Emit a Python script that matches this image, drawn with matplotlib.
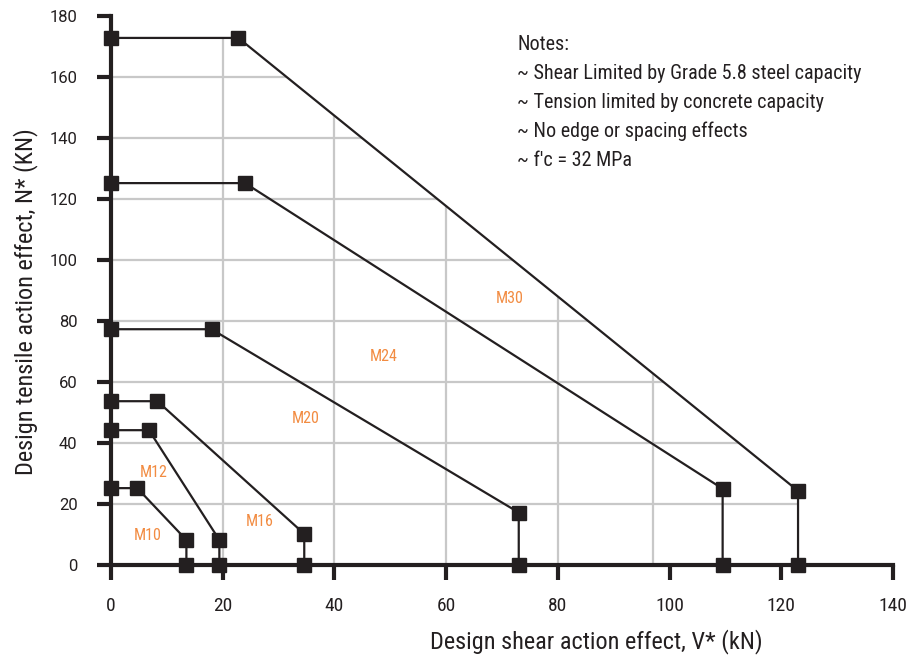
import matplotlib
matplotlib.use('Agg')
import matplotlib.pyplot as plt
from matplotlib import font_manager
from matplotlib.patches import Polygon

# pick a condensed face if one is installed
names = {f.name for f in font_manager.fontManager.ttflist}
cond = None
for n in ['Roboto Condensed', 'Liberation Sans Narrow', 'Open Sans Condensed']:
    if n in names:
        cond = n
        break
cond_kw = dict(family=cond) if cond else dict(family='Roboto', stretch='condensed')

# anchor bolt interaction curves: shear V* (kN) vs tension N* (kN)
sizes = ['M10', 'M12', 'M16', 'M20', 'M24', 'M30']
v_pts = {
    'M10': [0, 4.7, 13.5, 13.5],
    'M12': [0, 6.8, 19.4, 19.4],
    'M16': [0, 8.3, 34.6, 34.6],
    'M20': [0, 18.0, 73.0, 73.0],
    'M24': [0, 24.0, 109.5, 109.5],
    'M30': [0, 22.8, 123.0, 123.0],
}
n_pts = {
    'M10': [25.2, 25.2, 8.2, 0],
    'M12': [44.2, 44.2, 8.2, 0],
    'M16': [53.7, 53.7, 10.2, 0],
    'M20': [77.3, 77.3, 17.2, 0],
    'M24': [125.2, 125.2, 25.0, 0],
    'M30': [172.8, 172.8, 24.3, 0],
}
label_pos = {
    'M10': (6.6, 9.8),
    'M12': (7.6, 30.2),
    'M16': (26.6, 14.4),
    'M20': (34.8, 47.9),
    'M24': (48.8, 68.2),
    'M30': (71.3, 87.5),
}
grid_x = [20, 40, 60, 80, 97]
grid_y = [20, 40, 60, 80, 100, 120, 140, 160]
notes = ['Notes:',
         '~ Shear Limited by Grade 5.8 steel capacity',
         '~ Tension limited by concrete capacity',
         '~ No edge or spacing effects',
         "~ f'c = 32 MPa"]

fig = plt.figure(figsize=(9.09, 6.68), dpi=100)
ax = fig.add_axes([0.1221, 0.1542, 0.8603, 0.8219])

ax.set_xlim(0, 140)
ax.set_ylim(0, 180)

# grid only inside the largest (M30) envelope
env = Polygon(list(zip([0] + v_pts['M30'], [0] + n_pts['M30'])), closed=True,
              transform=ax.transData, facecolor='none', edgecolor='none')
ax.add_patch(env)
for gx in grid_x:
    ln = ax.axvline(gx, color='#c8c8c8', lw=1.6, zorder=1)
    ln.set_clip_path(env)
for gy in grid_y:
    ln = ax.axhline(gy, color='#c8c8c8', lw=1.6, zorder=1)
    ln.set_clip_path(env)

for s in sizes:
    ax.plot(v_pts[s], n_pts[s], color='#231f20', lw=1.6, marker='s',
            markersize=9.5, markerfacecolor='#231f20', markeredgecolor='#231f20',
            clip_on=False, zorder=4)
    ax.text(label_pos[s][0], label_pos[s][1], s, color='#F28C42',
            fontsize=11.5, ha='center', va='center', **cond_kw)

ax.set_xticks(range(0, 141, 20))
ax.set_yticks(range(0, 181, 20))
for lbl in ax.get_xticklabels():
    lbl.set_fontproperties(font_manager.FontProperties(size=14, **cond_kw))
for lbl in ax.get_yticklabels():
    lbl.set_fontproperties(font_manager.FontProperties(family='Roboto', size=12))
ax.tick_params(axis='x', length=11, width=3, color='#231f20', pad=12,
               labelcolor='#231f20')
ax.tick_params(axis='y', length=10, width=3, color='#231f20', pad=14,
               labelcolor='#231f20')

for side in ['top', 'right']:
    ax.spines[side].set_visible(False)
for side in ['left', 'bottom']:
    ax.spines[side].set_linewidth(3)
    ax.spines[side].set_color('#231f20')
    ax.spines[side].set_zorder(3)

ax.set_xlabel('Design shear action effect, V* (kN)', fontsize=17.5,
              color='#231f20', **cond_kw)
ax.xaxis.set_label_coords(0.62, -0.116)
ax.set_ylabel('Design tensile action effect, N* (KN)', fontsize=17.5,
              color='#231f20', **cond_kw)
ax.yaxis.set_label_coords(-0.093, 0.479)

for i, t in enumerate(notes):
    ax.text(0.569, 0.933 - i * 0.0434, t, transform=fig.transFigure,
            fontsize=14.5, color='#231f20', ha='left', va='center', **cond_kw)

fig.savefig('out.png', dpi=100)
